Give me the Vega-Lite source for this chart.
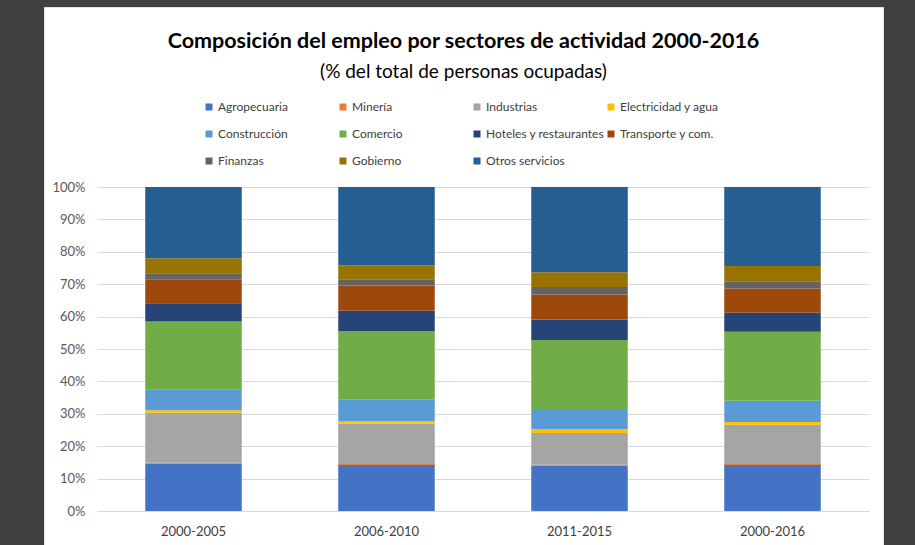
{
  "$schema": "https://vega.github.io/schema/vega-lite/v6.json",
  "width": 839,
  "height": 538,
  "autosize": {"type": "none"},
  "padding": {"left": 44, "top": 7, "right": 32, "bottom": 0},
  "background": "#404040",
  "config": {
    "view": {"fill": "white", "stroke": "#e6e6e6"},
    "font": "Lato, sans-serif"
  },
  "title": {
    "text": "Composición del empleo por sectores de actividad 2000-2016",
    "subtitle": "(% del total de personas ocupadas)",
    "anchor": "middle",
    "frame": "group",
    "offset": -75,
    "fontSize": 21.5,
    "fontWeight": "bold",
    "color": "#000000",
    "subtitleFontSize": 19,
    "subtitleColor": "#000000",
    "subtitlePadding": 11
  },
  "data": {
    "values": [
      {"periodo": "2000-2005", "sector": "Agropecuaria", "k": 1, "pct": 14.6},
      {"periodo": "2000-2005", "sector": "Minería", "k": 2, "pct": 0.3},
      {"periodo": "2000-2005", "sector": "Industrias", "k": 3, "pct": 15.4},
      {"periodo": "2000-2005", "sector": "Electricidad y agua", "k": 4, "pct": 0.8},
      {"periodo": "2000-2005", "sector": "Construcción", "k": 5, "pct": 6.5},
      {"periodo": "2000-2005", "sector": "Comercio", "k": 6, "pct": 20.9},
      {"periodo": "2000-2005", "sector": "Hoteles y restaurantes", "k": 7, "pct": 5.6},
      {"periodo": "2000-2005", "sector": "Transporte y com.", "k": 8, "pct": 7.4},
      {"periodo": "2000-2005", "sector": "Finanzas", "k": 9, "pct": 1.9},
      {"periodo": "2000-2005", "sector": "Gobierno", "k": 10, "pct": 4.6},
      {"periodo": "2000-2005", "sector": "Otros servicios", "k": 11, "pct": 22.0},
      {"periodo": "2006-2010", "sector": "Agropecuaria", "k": 1, "pct": 14.2},
      {"periodo": "2006-2010", "sector": "Minería", "k": 2, "pct": 0.3},
      {"periodo": "2006-2010", "sector": "Industrias", "k": 3, "pct": 12.5},
      {"periodo": "2006-2010", "sector": "Electricidad y agua", "k": 4, "pct": 0.8},
      {"periodo": "2006-2010", "sector": "Construcción", "k": 5, "pct": 6.7},
      {"periodo": "2006-2010", "sector": "Comercio", "k": 6, "pct": 21.0},
      {"periodo": "2006-2010", "sector": "Hoteles y restaurantes", "k": 7, "pct": 6.3},
      {"periodo": "2006-2010", "sector": "Transporte y com.", "k": 8, "pct": 7.8},
      {"periodo": "2006-2010", "sector": "Finanzas", "k": 9, "pct": 1.9},
      {"periodo": "2006-2010", "sector": "Gobierno", "k": 10, "pct": 4.3},
      {"periodo": "2006-2010", "sector": "Otros servicios", "k": 11, "pct": 24.2},
      {"periodo": "2011-2015", "sector": "Agropecuaria", "k": 1, "pct": 14.0},
      {"periodo": "2011-2015", "sector": "Minería", "k": 2, "pct": 0.3},
      {"periodo": "2011-2015", "sector": "Industrias", "k": 3, "pct": 9.8},
      {"periodo": "2011-2015", "sector": "Electricidad y agua", "k": 4, "pct": 1.1},
      {"periodo": "2011-2015", "sector": "Construcción", "k": 5, "pct": 6.3},
      {"periodo": "2011-2015", "sector": "Comercio", "k": 6, "pct": 21.3},
      {"periodo": "2011-2015", "sector": "Hoteles y restaurantes", "k": 7, "pct": 6.3},
      {"periodo": "2011-2015", "sector": "Transporte y com.", "k": 8, "pct": 7.7},
      {"periodo": "2011-2015", "sector": "Finanzas", "k": 9, "pct": 2.3},
      {"periodo": "2011-2015", "sector": "Gobierno", "k": 10, "pct": 4.6},
      {"periodo": "2011-2015", "sector": "Otros servicios", "k": 11, "pct": 26.3},
      {"periodo": "2000-2016", "sector": "Agropecuaria", "k": 1, "pct": 14.2},
      {"periodo": "2000-2016", "sector": "Minería", "k": 2, "pct": 0.3},
      {"periodo": "2000-2016", "sector": "Industrias", "k": 3, "pct": 12.1},
      {"periodo": "2000-2016", "sector": "Electricidad y agua", "k": 4, "pct": 0.9},
      {"periodo": "2000-2016", "sector": "Construcción", "k": 5, "pct": 6.5},
      {"periodo": "2000-2016", "sector": "Comercio", "k": 6, "pct": 21.3},
      {"periodo": "2000-2016", "sector": "Hoteles y restaurantes", "k": 7, "pct": 5.9},
      {"periodo": "2000-2016", "sector": "Transporte y com.", "k": 8, "pct": 7.5},
      {"periodo": "2000-2016", "sector": "Finanzas", "k": 9, "pct": 2.2},
      {"periodo": "2000-2016", "sector": "Gobierno", "k": 10, "pct": 4.7},
      {"periodo": "2000-2016", "sector": "Otros servicios", "k": 11, "pct": 24.4}
    ]
  },
  "mark": {"type": "bar"},
  "encoding": {
    "x": {
      "field": "periodo",
      "type": "nominal",
      "sort": ["2000-2005", "2006-2010", "2011-2015", "2000-2016"],
      "scale": {"range": [53, 825], "paddingInner": 0.5, "paddingOuter": 0.25},
      "axis": {
        "title": null,
        "labelAngle": 0,
        "orient": "bottom",
        "offset": -34,
        "domainColor": "#d9d9d9",
        "ticks": false,
        "tickSize": 0,
        "labelPadding": 14,
        "labelFontSize": 13,
        "labelColor": "#404040"
      }
    },
    "y": {
      "field": "pct",
      "type": "quantitative",
      "stack": "zero",
      "scale": {"domain": [0, 100], "range": [504, 180], "nice": false},
      "axis": {
        "title": null,
        "values": [0, 10, 20, 30, 40, 50, 60, 70, 80, 90, 100],
        "labelExpr": "datum.value + '%'",
        "offset": -53,
        "domain": false,
        "ticks": false,
        "tickSize": 0,
        "labelPadding": 12,
        "gridColor": "#d9d9d9",
        "labelFontSize": 13,
        "labelColor": "#595959"
      }
    },
    "color": {
      "field": "sector",
      "type": "nominal",
      "scale": {
        "domain": ["Agropecuaria", "Minería", "Industrias", "Electricidad y agua", "Construcción", "Comercio", "Hoteles y restaurantes", "Transporte y com.", "Finanzas", "Gobierno", "Otros servicios"],
        "range": ["#4472C4", "#ED7D31", "#A5A5A5", "#FFC000", "#5B9BD5", "#70AD47", "#264478", "#9E480E", "#636363", "#997300", "#255E91"]
      },
      "legend": {
        "title": null,
        "orient": "none",
        "direction": "horizontal",
        "legendX": 159,
        "legendY": 94,
        "columns": 4,
        "gridAlign": "all",
        "columnPadding": 0,
        "rowPadding": 15,
        "symbolType": "square",
        "symbolSize": 49,
        "symbolStrokeWidth": 0,
        "labelFontSize": 12,
        "labelOffset": 3,
        "labelColor": "#404040",
        "labelLimit": 300
      }
    },
    "order": {"field": "k", "type": "quantitative"}
  }
}
